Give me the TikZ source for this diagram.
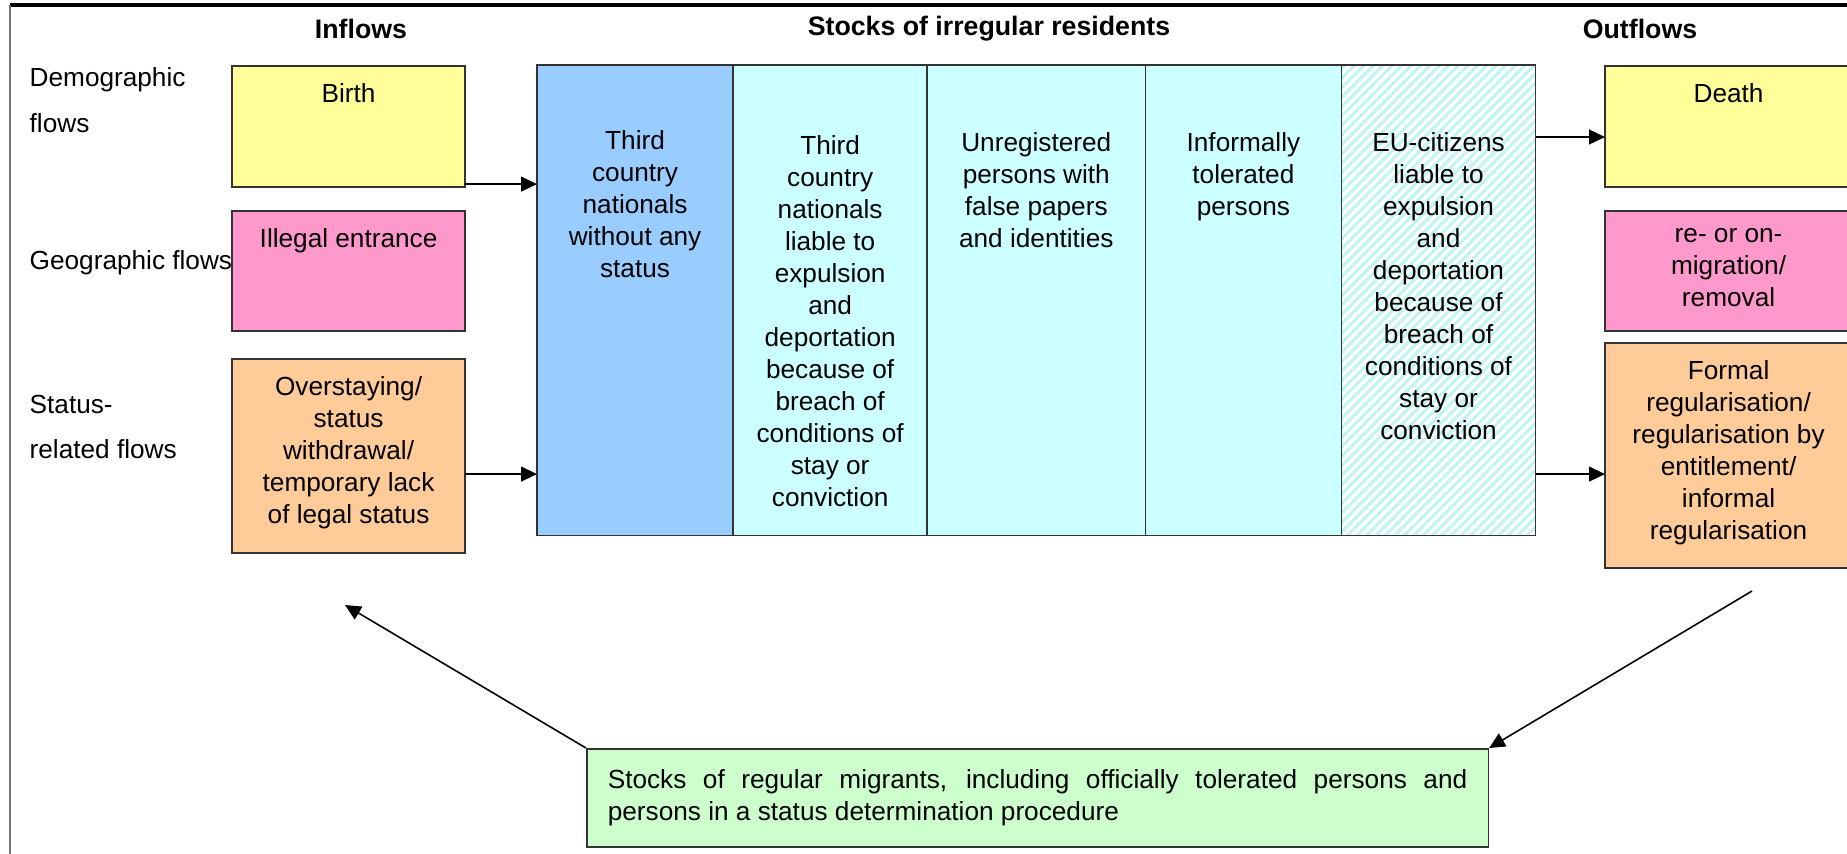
\documentclass[tikz,border=0pt]{standalone}
\usepackage{fontspec}
\setmainfont{Liberation Sans}
\usetikzlibrary{arrows.meta, positioning, patterns.meta}

\definecolor{birthyellow}{HTML}{FFFF99}
\definecolor{geopink}{HTML}{FF99CC}
\definecolor{statusorange}{HTML}{FFCC99}
\definecolor{stockblue}{HTML}{99CCFF}
\definecolor{stockcyan}{HTML}{CCFFFF}
\definecolor{hatchcyan}{HTML}{C2F4F4}
\definecolor{regulargreen}{HTML}{CCFFCC}

\begin{document}
\begin{tikzpicture}[
    x=0.01cm, y=-0.01cm,
    font=\fontsize{7.45}{9.1}\selectfont,
    flow/.style = {draw=black!80, line width=0.45pt, inner sep=0pt, outer sep=0pt,
                minimum width=2.33cm, anchor=north west},
    col/.style = {draw=black!80, line width=0.45pt, inner sep=0pt, outer sep=0pt,
                minimum height=4.7cm, anchor=north west},
    txt/.style = {align=center, inner sep=0pt},
    head/.style = {font=\fontsize{7.6}{9.1}\selectfont\bfseries},
    rowlbl/.style = {align=left, anchor=west, inner sep=0pt,
                font=\fontsize{7.45}{13}\selectfont},
    arr/.style = {-{Triangle[length=4.5pt,width=4.2pt]}, line width=0.45pt}
                    ]
\useasboundingbox (0,0) rectangle (1847,853);

% frame
\draw[line width=1pt] (10,5) -- (1900,5);
\draw[black!55, line width=0.6pt] (10,5) -- (10,900);

% headings
\node (hin) [head] at (361,29) {Inflows};
\node (hstock) [head] at (989,29) {Stocks of irregular residents};
\node (hout) [head] at (1640,29) {Outflows};

\node (rdemo) [rowlbl] at (29,100) {Demographic\\flows};
\node (rgeo) [rowlbl] at (29,263) {Geographic flows};
\node (rstat) [rowlbl] at (29,427) {Status-\\related flows};

% inflows
\node (birth) [flow, fill=birthyellow, minimum height=1.21cm] at (232,66) {};
\node (illegal) [flow, fill=geopink, minimum height=1.2cm] at (232,211) {};
\node (overstay) [flow, fill=statusorange, minimum height=1.94cm] at (232,359) {};
\node (tbirth) [txt, below=0.17cm of birth.north] {Birth};
\node (tillegal) [txt, below=0.17cm of illegal.north] {Illegal entrance};
\node (toverstay) [txt, below=0.17cm of overstay.north]
    {Overstaying/\\status\\withdrawal/\\temporary lack\\of legal status};

% stocks
\node (c1) [col, fill=stockblue, minimum width=1.96cm] at (537,65) {};
\node (c2) [col, fill=stockcyan, minimum width=1.94cm, right=0pt of c1] {};
\node (c3) [col, fill=stockcyan, minimum width=2.18cm, right=0pt of c2] {};
\node (c4) [col, fill=stockcyan, minimum width=1.96cm, right=0pt of c3] {};
\node (c5) [col, fill=white, minimum width=1.94cm, right=0pt of c4,
    postaction={pattern={Lines[angle=45,distance=1.9pt,line width=0.9pt]},
                pattern color=hatchcyan}] {};
\draw[black!80, line width=0.45pt] (c5.north west) rectangle (c5.south east);

\node (t1) [txt, below=0.65cm of c1.north]
    {Third\\country\\nationals\\without any\\status};
\node (t2) [txt, below=0.70cm of c2.north]
    {Third\\country\\nationals\\liable to\\expulsion\\and\\deportation\\because of\\breach of\\conditions of\\stay or\\conviction};
\node (t3) [txt, below=0.67cm of c3.north]
    {Unregistered\\persons with\\false papers\\and identities};
\node (t4) [txt, below=0.67cm of c4.north]
    {Informally\\tolerated\\persons};
\node (t5) [txt, below=0.67cm of c5.north]
    {EU-citizens\\liable to\\expulsion\\and\\deportation\\because of\\breach of\\conditions of\\stay or\\conviction};

% outflows
\node (death) [flow, fill=birthyellow, minimum width=2.47cm, minimum height=1.21cm] at (1605,66) {};
\node (remig) [flow, fill=geopink, minimum width=2.47cm, minimum height=1.2cm] at (1605,211) {};
\node (regul) [flow, fill=statusorange, minimum width=2.47cm, minimum height=2.25cm] at (1605,343) {};
\node (tdeath) [txt, below=0.17cm of death.north] {Death};
\node (tremig) [txt, below=0.17cm of remig.north] {re- or on-\\migration/\\removal};
\node (tregul) [txt, below=0.17cm of regul.north]
    {Formal\\regularisation/\\regularisation by\\entitlement/\\informal\\regularisation};

% regular migrants
\node (regular) [draw=black!80, line width=0.45pt, fill=regulargreen, anchor=north west,
    text width=8.59cm, align=justify, inner xsep=0.21cm, minimum height=0.98cm]
    at (586,748) {Stocks of regular migrants, including officially tolerated persons and\linebreak
    persons in a status determination procedure};

% arrows
\path (birth.south east) ++(0,-3) coordinate (b1);
\path (overstay.east) ++(0,18) coordinate (o1);
\path (c5.north east) ++(0,72) coordinate (d1);
\draw[arr] (b1) -- (b1 -| c1.west);
\draw[arr] (o1) -- (o1 -| c1.west);
\draw[arr] (d1) -- (d1 -| death.west);
\draw[arr] (o1 -| c5.east) -- (o1 -| regul.west);

\coordinate (inret) at (345,605);
\coordinate (outret) at (1752,591);
\draw[arr] (regular.north west) -- (inret);
\draw[arr] (outret) -- (regular.north east);

\end{tikzpicture}
\end{document}
